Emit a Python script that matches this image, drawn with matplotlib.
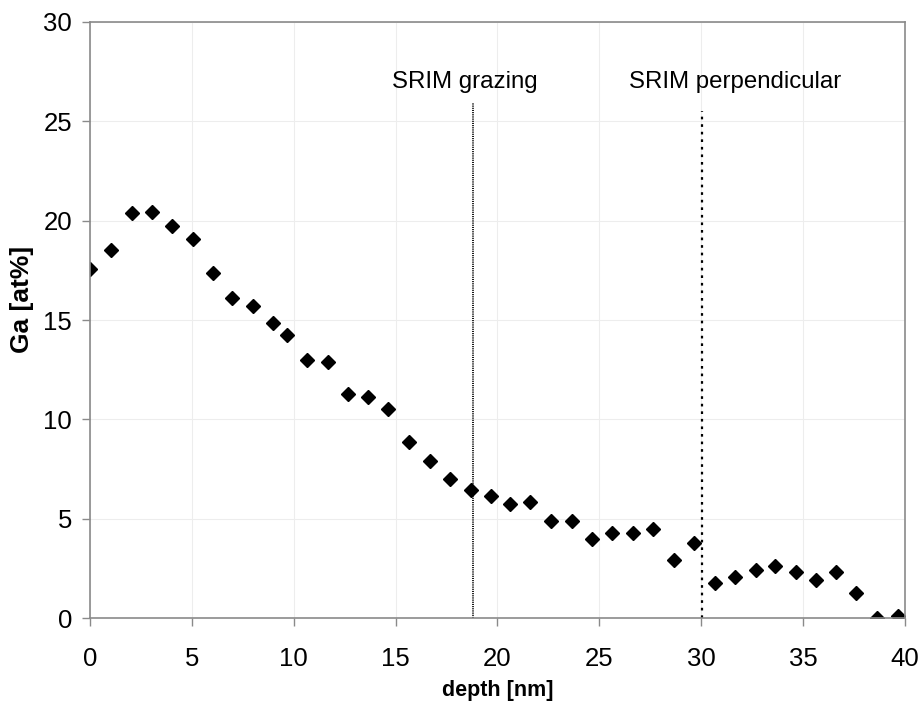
import numpy as np
import matplotlib.pyplot as plt

# Datos: profundidad (nm) y concentracion de Ga (at%)
depth = [0.0, 1.01, 2.05, 3.03, 4.02, 5.04, 6.05, 6.97, 7.98, 8.97, 9.65,
         10.64, 11.67, 12.65, 13.66, 14.64, 15.67, 16.69, 17.67, 18.70, 19.68,
         20.61, 21.60, 22.61, 23.66, 24.65, 25.64, 26.63, 27.65, 28.66, 29.66,
         30.67, 31.67, 32.67, 33.60, 34.63, 35.63, 36.61, 37.60, 38.61, 39.64]
ga = [17.55, 18.52, 20.37, 20.45, 19.73, 19.09, 17.35, 16.12, 15.70, 14.86, 14.24,
      12.98, 12.88, 11.26, 11.11, 10.50, 8.84, 7.90, 6.98, 6.44, 6.14,
      5.72, 5.82, 4.90, 4.90, 3.96, 4.28, 4.28, 4.48, 2.92, 3.76,
      1.78, 2.08, 2.42, 2.62, 2.33, 1.91, 2.33, 1.24, 0.02, 0.12]

# Profundidades SRIM (lineas verticales)
srim_depths = [18.78, 30.02]
srim_labels = ['SRIM grazing', 'SRIM perpendicular']

plt.rcParams['font.family'] = ['Liberation Sans', 'DejaVu Sans']

fig = plt.figure(figsize=(9.23, 7.09), dpi=100)
ax = fig.add_axes([0.0975, 0.1283, 0.8830, 0.8407])

ax.plot(depth, ga, linestyle='none', marker='D', markersize=7.5, color='black')

# lineas SRIM
ax.vlines(srim_depths[0], 0, 25.9, colors='black', linestyles=(0, (0.6, 0.6)), linewidth=1.3)
ax.vlines(srim_depths[1], 0, 25.5, colors='black', linestyles=(0, (1.2, 2.2)), linewidth=1.6)
ax.text(srim_depths[0] - 0.4, 26.67, srim_labels[0], ha='center', va='baseline', fontsize=17.3)
ax.text(srim_depths[1] + 1.65, 26.67, srim_labels[1], ha='center', va='baseline', fontsize=17.3)

ax.set_xlim(0, 40)
ax.set_ylim(0, 30)
ax.set_xticks(np.arange(0, 41, 5))
ax.set_yticks(np.arange(0, 31, 5))
ax.grid(True, color='#ededed', linewidth=0.8)
ax.set_axisbelow(True)

for s in ax.spines.values():
    s.set_color('#8a8a8a')
    s.set_linewidth(1.2)

ax.tick_params(axis='both', direction='out', length=6, width=1.0, color='#8a8a8a',
               labelsize=18.5)
ax.tick_params(axis='x', pad=15)
ax.tick_params(axis='y', pad=7)

ax.set_xlabel('depth [nm]', fontsize=15.5, fontweight='bold')
ax.set_ylabel('Ga [at%]', fontsize=19, fontweight='bold')
ax.xaxis.set_label_coords(0.5, -0.104)
ax.yaxis.set_label_coords(-0.069, 0.534)

fig.savefig('out.png', dpi=100)
